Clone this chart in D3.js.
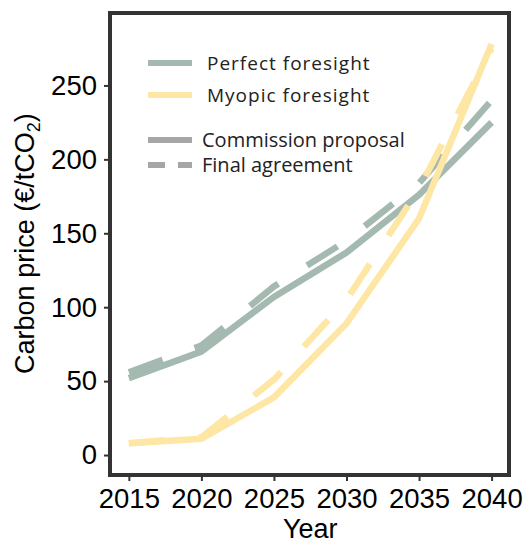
<!DOCTYPE html>
<html>
<head>
<meta charset="utf-8">
<script src="https://cdn.jsdelivr.net/npm/d3@7"></script>
<style>
  body { margin: 0; background: #fff; }
  text { font-family: "Liberation Sans", Arial, sans-serif; }
</style>
</head>
<body>
<div id="chart"></div>
<script>
var chartDiv = document.querySelector("#chart");

var width = 525;
var height = 539;

// data
var years = [2015, 2020, 2025, 2030, 2035, 2040];
var perfectProposal = [52, 70, 107, 137, 176, 225];
var perfectFinal = [56, 74, 114, 145, 184, 240];
var myopicProposal = [8, 11, 39, 89, 160, 278];
var myopicFinal = [8, 12, 51, 105, 180, 275];
var yTicks = [0, 50, 100, 150, 200, 250];

var green = "#a4b9b0";
var yellow = "#fee6a4";
var frameColor = "#333333";

var svg = d3.select(chartDiv)
  .append("svg")
    .attr("width", width)
    .attr("height", height);

var x = d3.scaleLinear()
  .domain([2013.7, 2041.2])
  .range([110, 509]);

var y = d3.scaleLinear()
  .domain([-13.5, 299])
  .range([475, 13]);

var line = d3.line()
  .x(function(d){ return x(d.year); })
  .y(function(d){ return y(d.value); });

function toPoints(values) {
  return years.map(function(yr, i){ return {year: yr, value: values[i]}; });
}

var series = [
  {values: perfectProposal, color: green, dash: null},
  {values: perfectFinal, color: green, dash: "36,34"},
  {values: myopicProposal, color: yellow, dash: null},
  {values: myopicFinal, color: yellow, dash: "36,34"}
];

var plot = svg.append("g");

plot.selectAll("path.series")
  .data(series)
  .enter()
  .append("path")
    .attr("class", "series")
    .attr("d", function(d){ return line(toPoints(d.values)); })
    .attr("fill", "none")
    .attr("stroke", function(d){ return d.color; })
    .attr("stroke-width", 6.5)
    .attr("stroke-dasharray", function(d){ return d.dash; })
    .attr("stroke-linejoin", "miter");

// axes
var xAxis = svg.append("g")
  .attr("transform", "translate(0," + y.range()[0] + ")")
  .call(d3.axisBottom(x).tickValues(years).tickFormat(d3.format("d")).tickSize(6).tickPadding(7));

var yAxis = svg.append("g")
  .attr("transform", "translate(" + x.range()[0] + ",0)")
  .call(d3.axisLeft(y).tickValues(yTicks).tickSize(6).tickPadding(7));

[xAxis, yAxis].forEach(function(ax){
  ax.select(".domain").remove();
  ax.selectAll(".tick line").attr("stroke", frameColor).attr("stroke-width", 2);
  ax.selectAll(".tick text")
    .attr("fill", "#000")
    .style("font-size", "27.5px")
    .style("font-family", "'Liberation Sans', Arial, sans-serif");
});

// frame
svg.append("rect")
  .attr("x", x.range()[0])
  .attr("y", y.range()[1])
  .attr("width", x.range()[1] - x.range()[0])
  .attr("height", y.range()[0] - y.range()[1])
  .attr("fill", "none")
  .attr("stroke", frameColor)
  .attr("stroke-width", 4);

// axis titles
svg.append("text")
  .attr("x", (x(2015) + x(2040)) / 2)
  .attr("y", 538)
  .attr("text-anchor", "middle")
  .style("font-size", "27px")
  .text("Year");

var yTitle = svg.append("text")
  .attr("transform", "translate(34," + y(143) + ") rotate(-90)")
  .attr("text-anchor", "middle")
  .style("font-size", "27px");
yTitle.append("tspan").text("Carbon price (€/tCO");
yTitle.append("tspan").attr("dy", 6).style("font-size", "18px").text("2");
yTitle.append("tspan").attr("dy", -6).text(")");

// legend
var legendItems = [
  {label: "Perfect foresight", color: green, dash: null, y: 63, tx: 207, spacing: 1, size: 19},
  {label: "Myopic foresight", color: yellow, dash: null, y: 95, tx: 207, spacing: 1, size: 19},
  {label: "Commission proposal", color: "#a6a6a6", dash: null, y: 140, tx: 202, spacing: 0, size: 20},
  {label: "Final agreement", color: "#a6a6a6", dash: "17,13", y: 165, tx: 202, spacing: 0, size: 20}
];

var legend = svg.append("g");
var item = legend.selectAll("g")
  .data(legendItems)
  .enter()
  .append("g");

item.append("line")
  .attr("x1", 148)
  .attr("x2", 192)
  .attr("y1", function(d){ return d.y; })
  .attr("y2", function(d){ return d.y; })
  .attr("stroke", function(d){ return d.color; })
  .attr("stroke-width", 6)
  .attr("stroke-dasharray", function(d){ return d.dash; });

item.append("text")
  .attr("x", function(d){ return d.tx; })
  .attr("y", function(d){ return d.y; })
  .attr("dy", "0.35em")
  .style("font-family", "'Open Sans', sans-serif")
  .style("font-size", function(d){ return d.size + "px"; })
  .style("letter-spacing", function(d){ return d.spacing + "px"; })
  .attr("fill", "#222")
  .text(function(d){ return d.label; });
</script>
</body>
</html>
